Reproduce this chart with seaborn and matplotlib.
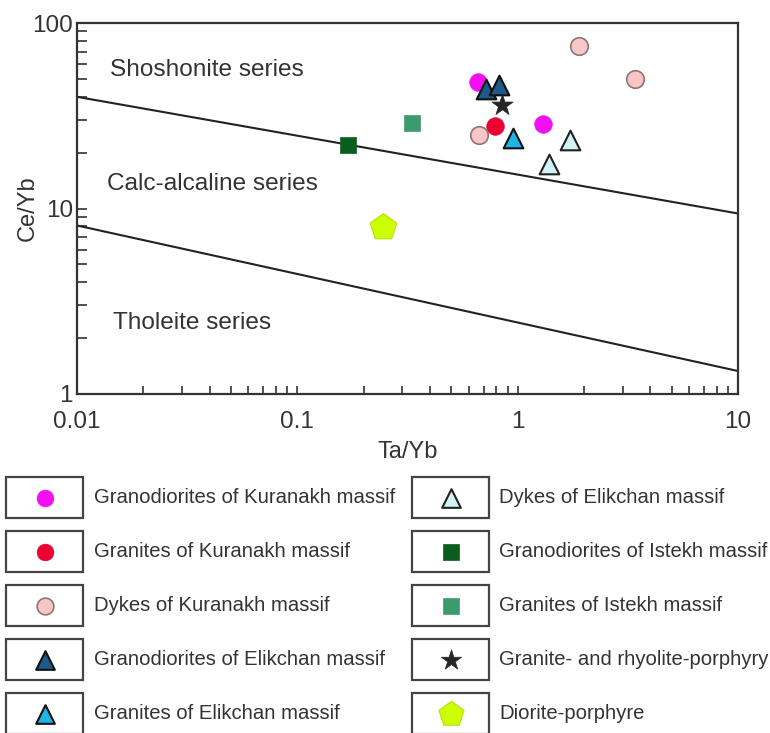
import numpy as np
import pandas as pd
import matplotlib
matplotlib.use("Agg")
import matplotlib.pyplot as plt
from matplotlib.patches import Rectangle
from matplotlib.ticker import FixedLocator, FixedFormatter, NullFormatter
import seaborn as sns

# ---- data -------------------------------------------------------------
groups = [
    "Granodiorites of Kuranakh massif",
    "Granites of Kuranakh massif",
    "Dykes of Kuranakh massif",
    "Granodiorites of Elikchan massif",
    "Granites of Elikchan massif",
    "Dykes of Elikchan massif",
    "Granodiorites of Istekh massif",
    "Granites of Istekh massif",
    "Granite- and rhyolite-porphyry",
    "Diorite-porphyre",
]

sample_group = [
    "Granodiorites of Kuranakh massif", "Granodiorites of Kuranakh massif",
    "Granites of Kuranakh massif",
    "Dykes of Kuranakh massif", "Dykes of Kuranakh massif", "Dykes of Kuranakh massif",
    "Granodiorites of Elikchan massif", "Granodiorites of Elikchan massif",
    "Granites of Elikchan massif",
    "Dykes of Elikchan massif", "Dykes of Elikchan massif",
    "Granodiorites of Istekh massif",
    "Granites of Istekh massif",
    "Granite- and rhyolite-porphyry",
    "Diorite-porphyre",
]
ta_yb = [0.66, 1.30, 0.79, 1.90, 3.40, 0.67, 0.72, 0.82, 0.95, 1.72, 1.39, 0.17, 0.33, 0.85, 0.245]
ce_yb = [48.0, 28.5, 28.0, 75.0, 50.0, 25.0, 44.0, 46.5, 24.0, 23.5, 17.3, 22.0, 29.0, 36.0, 7.9]

# series boundaries (Ta/Yb end points and Ce/Yb at those points)
boundary_ta = [0.01, 10.0]
shoshonite_calc_ce = [40.0, 9.4]
calc_tholeite_ce = [8.1, 1.33]

x_ticks = [0.01, 0.1, 1, 10]
x_tick_labels = ["0.01", "0.1", "1", "10"]
y_ticks = [1, 10, 100]
y_tick_labels = ["1", "10", "100"]

series_labels = ["Shoshonite series", "Calc-alcaline series", "Tholeite series"]
series_label_x = [0.0141, 0.0137, 0.0146]
series_label_y = [56.0, 13.6, 2.41]

# ---- marker styles ----------------------------------------------------
styles = {
    "Granodiorites of Kuranakh massif": dict(marker="o", s=160, color="#f20ff2", edgecolor="#f20ff2", lw=0.5),
    "Granites of Kuranakh massif": dict(marker="o", s=160, color="#ec0032", edgecolor="#ec0032", lw=0.5),
    "Dykes of Kuranakh massif": dict(marker="o", s=160, color="#f7c6c6", edgecolor="#8e7474", lw=1.2),
    "Granodiorites of Elikchan massif": dict(marker="^", s=200, color="#1c5a8a", edgecolor="#111111", lw=1.5),
    "Granites of Elikchan massif": dict(marker="^", s=200, color="#1eb4e6", edgecolor="#111111", lw=1.5),
    "Dykes of Elikchan massif": dict(marker="^", s=200, color="#d2f4f6", edgecolor="#222222", lw=1.5),
    "Granodiorites of Istekh massif": dict(marker="s", s=135, color="#0b5d1e", edgecolor="#0b5d1e", lw=0.5),
    "Granites of Istekh massif": dict(marker="s", s=135, color="#3d9a6e", edgecolor="#3d9a6e", lw=0.5),
    "Granite- and rhyolite-porphyry": dict(marker="*", s=260, color="#262626", edgecolor="#262626", lw=0.5),
    "Diorite-porphyre": dict(marker="p", s=400, color="#ccff00", edgecolor="#b8e000", lw=0.8),
}

df = pd.DataFrame({"group": sample_group, "Ta/Yb": ta_yb, "Ce/Yb": ce_yb})

# ---- figure -----------------------------------------------------------
sns.set_theme(style="white")
plt.rcParams["font.family"] = ["Liberation Sans", "DejaVu Sans"]
text_color = "#333333"

fig = plt.figure(figsize=(7.7, 7.33), dpi=100)

# legend panel underneath, in pixel coordinates
ax_leg = fig.add_axes([0, 0, 1, 1], zorder=0)
ax_leg.set_xlim(0, 770)
ax_leg.set_ylim(733, 0)
ax_leg.axis("off")

ax = fig.add_axes([77 / 770, 1 - 394 / 733, (738 - 77) / 770, (394 - 23) / 733], zorder=1)
ax.set_xscale("log")
ax.set_yscale("log")
ax.set_xlim(0.01, 10)
ax.set_ylim(1, 100)

sns.lineplot(x=boundary_ta, y=shoshonite_calc_ce, ax=ax, color="#222222", lw=1.5, zorder=2)
sns.lineplot(x=boundary_ta, y=calc_tholeite_ce, ax=ax, color="#222222", lw=1.5, zorder=2)

for g in groups:
    st = styles[g]
    sub = df[df["group"] == g]
    sns.scatterplot(data=sub, x="Ta/Yb", y="Ce/Yb", ax=ax, marker=st["marker"], s=st["s"],
                    color=st["color"], edgecolor=st["edgecolor"], linewidth=st["lw"],
                    legend=False, zorder=3)

for lab, lx, ly in zip(series_labels, series_label_x, series_label_y):
    ax.text(lx, ly, lab, fontsize=17.6, color=text_color, ha="left", va="center")

ax.xaxis.set_major_locator(FixedLocator(x_ticks))
ax.xaxis.set_major_formatter(FixedFormatter(x_tick_labels))
ax.xaxis.set_minor_locator(FixedLocator([m * d for d in [0.01, 0.1, 1] for m in range(2, 10)]))
ax.xaxis.set_minor_formatter(NullFormatter())
ax.yaxis.set_major_locator(FixedLocator(y_ticks))
ax.yaxis.set_major_formatter(FixedFormatter(y_tick_labels))
ax.yaxis.set_minor_locator(FixedLocator([m * d for d in [1, 10] for m in range(2, 10)]))
ax.yaxis.set_minor_formatter(NullFormatter())

ax.tick_params(axis="x", which="both", direction="in", length=5.5, width=1.2, color=text_color,
               bottom=True, top=False, pad=12, labelsize=17.5, labelcolor=text_color)
ax.tick_params(axis="y", which="both", direction="in", length=7.5, width=1.2, color=text_color,
               left=True, right=False, pad=3, labelsize=17.5, labelcolor=text_color)

for sp in ax.spines.values():
    sp.set_linewidth(1.6)
    sp.set_color(text_color)

ax.set_xlabel("Ta/Yb", fontsize=17, color=text_color, labelpad=6)
ax.set_ylabel("Ce/Yb", fontsize=17, color=text_color, labelpad=-5)

# ---- boxed legend -----------------------------------------------------
col_box_left = [6, 412]
col_text_left = [94, 499]
row_centers = [497.5, 551.5, 605.5, 659.5, 713.5]
box_w, box_h = 77, 41

for i, g in enumerate(groups):
    col, row = divmod(i, 5)
    cy = row_centers[row]
    bx = col_box_left[col]
    ax_leg.add_patch(Rectangle((bx, cy - box_h / 2), box_w, box_h, fill=False,
                               edgecolor="#444444", lw=1.6))
    st = styles[g]
    ax_leg.scatter([bx + box_w / 2], [cy], marker=st["marker"], s=st["s"] * 0.9,
                   color=st["color"], edgecolor=st["edgecolor"], linewidth=st["lw"], zorder=3)
    ax_leg.text(col_text_left[col], cy, g, fontsize=14.6, color=text_color,
                ha="left", va="center")

fig.savefig("out.png", dpi=100)
